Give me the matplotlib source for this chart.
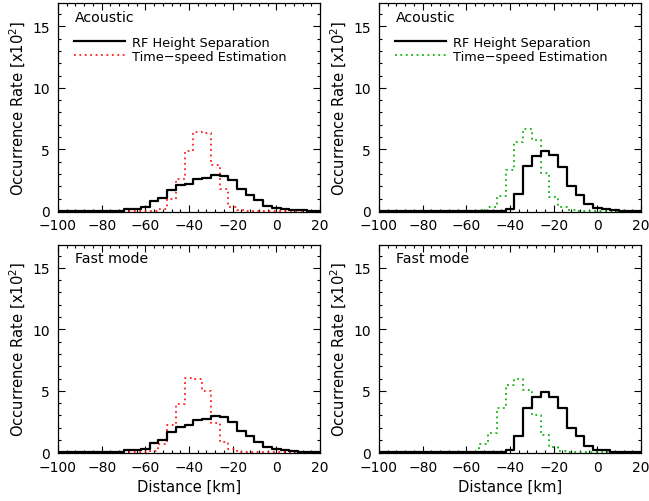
import numpy as np
import matplotlib
matplotlib.use("Agg")
import matplotlib.pyplot as plt
from matplotlib.ticker import MultipleLocator

plt.rcParams['font.family'] = ['DejaVu Sans']
plt.rcParams['mathtext.default'] = 'regular'
plt.rcParams['axes.unicode_minus'] = True

# bin centres [km]
centers = np.arange(-100, 21, 4)

def full(d):
    v = np.zeros(len(centers))
    for c, val in d.items():
        v[list(centers).index(c)] = val
    return v

# Acoustic, left panel (RF height separation vs time-speed estimation)
acoustic_rf_left = full({-68: 0.16, -64: 0.16, -60: 0.3, -56: 0.8, -52: 1.03, -48: 1.7, -44: 2.07,
                         -40: 2.17, -36: 2.6, -32: 2.66, -28: 2.93, -24: 2.85, -20: 2.5, -16: 1.77,
                         -12: 1.33, -8: 0.9, -4: 0.43, 0: 0.2, 4: 0.15, 8: 0.08, 12: 0.04, 16: 0.02})
acoustic_ts_left = full({-52: 0.16, -48: 1.0, -44: 2.6, -40: 4.9, -36: 6.45, -32: 6.3, -28: 3.7,
                         -24: 1.77, -20: 0.35, -16: 0.05})
# Acoustic, right panel
acoustic_rf_right = full({-40: 0.18, -36: 1.36, -32: 3.67, -28: 4.5, -24: 4.9, -20: 4.57, -16: 3.56,
                          -12: 2.0, -8: 1.33, -4: 0.54, 0: 0.22, 4: 0.16, 8: 0.05, 12: 0.03})
acoustic_ts_right = full({-52: 0.08, -48: 0.35, -44: 1.17, -40: 3.29, -36: 5.57, -32: 6.66, -28: 5.8,
                          -24: 3.07, -20: 1.09, -16: 0.3, -12: 0.05})
# Fast mode, left panel
fast_rf_left = full({-68: 0.16, -64: 0.16, -60: 0.3, -56: 0.79, -52: 1.03, -48: 1.68, -44: 2.09,
                     -40: 2.2, -36: 2.66, -32: 2.72, -28: 2.96, -24: 2.88, -20: 2.5, -16: 1.77,
                     -12: 1.36, -8: 0.87, -4: 0.46, 0: 0.24, 4: 0.16, 8: 0.08, 12: 0.05})
fast_ts_left = full({-56: 0.1, -52: 0.65, -48: 2.2, -44: 3.9, -40: 6.03, -36: 5.95, -32: 4.95,
                     -28: 2.36, -24: 0.87, -20: 0.24, -16: 0.05})
# Fast mode, right panel
fast_rf_right = full({-40: 0.19, -36: 1.36, -32: 3.64, -28: 4.5, -24: 4.9, -20: 4.54, -16: 3.59,
                      -12: 2.0, -8: 1.33, -4: 0.54, 0: 0.22, 4: 0.16, 8: 0.05})
fast_ts_right = full({-56: 0.05, -52: 0.65, -48: 1.57, -44: 3.59, -40: 5.49, -36: 5.95, -32: 5.05,
                      -28: 3.04, -24: 1.41, -20: 0.46, -16: 0.1})

mode_labels = ["Acoustic", "Acoustic", "Fast mode", "Fast mode"]
series_labels = ["RF Height Separation", "Time\u2212speed Estimation"]
xticks = [-100, -80, -60, -40, -20, 0, 20]
yticks = [0, 5, 10, 15]

W, H = 649, 502
fig = plt.figure(figsize=(W / 100, H / 100), dpi=100)

panels = [
    (58, 4, acoustic_rf_left, acoustic_ts_left, '#ff2020', True),
    (379, 4, acoustic_rf_right, acoustic_ts_right, '#10b010', True),
    (58, 245.5, fast_rf_left, fast_ts_left, '#ff2020', False),
    (379, 245.5, fast_rf_right, fast_ts_right, '#10b010', False),
]
pw, ph = 262, 208.5

for i, (x0, y0, rf, ts, col, legend) in enumerate(panels):
    ax = fig.add_axes([x0 / W, 1 - (y0 + ph) / H, pw / W, ph / H])
    ax.step(centers, ts, where='mid', color=col, lw=1.3, linestyle=(0, (1, 2)),
            label=series_labels[1], zorder=2)
    ax.step(centers, rf, where='mid', color='black', lw=1.6, label=series_labels[0], zorder=3)
    ax.set_xlim(-100, 20)
    ax.set_ylim(-0.05, 16.9)
    ax.set_xticks(xticks)
    ax.set_yticks(yticks)
    ax.xaxis.set_minor_locator(MultipleLocator(4))
    ax.yaxis.set_minor_locator(MultipleLocator(1))
    ax.tick_params(which='both', direction='in', top=True, right=True, labelsize=10, width=0.8)
    ax.tick_params(which='major', length=5)
    ax.tick_params(which='minor', length=2.5)
    ax.tick_params(axis='x', pad=5)
    ax.tick_params(axis='y', pad=6)
    for s in ax.spines.values():
        s.set_linewidth(0.9)
    ax.set_ylabel('Occurrence Rate [x10$^{2}$]', fontsize=10.6, va='center')
    ax.yaxis.set_label_coords(-40 / pw, 0.5)
    if i >= 2:
        ax.set_xlabel('Distance [km]', fontsize=10.6, labelpad=3.5)
    ax.text(0.065, 0.933, mode_labels[i], transform=ax.transAxes, fontsize=10.2,
            ha='left', va='center')
    if legend:
        h, l = ax.get_legend_handles_labels()
        ax.legend(h[::-1], l[::-1], loc='upper left', bbox_to_anchor=(0.062, 0.842),
                  frameon=False, fontsize=9.3, handlelength=3.9, handletextpad=0.6,
                  labelspacing=0.05, borderpad=0, borderaxespad=0)

fig.savefig('out.png', dpi=100)
